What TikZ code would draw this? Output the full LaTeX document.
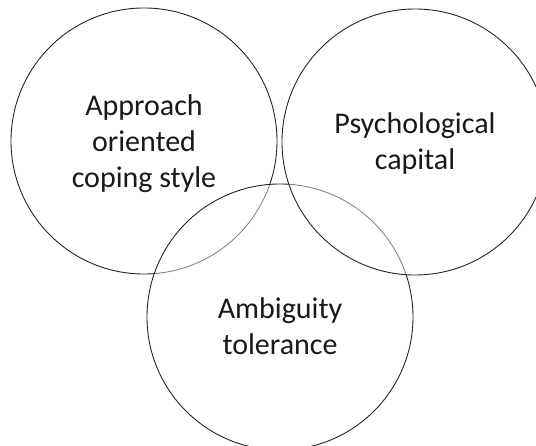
\documentclass[tikz,border=0pt]{standalone}
\usepackage{fontspec}
\setmainfont{Carlito}

\tikzset{
  venn/.style={circle, draw=black!85, line width=0.9pt, fill=white, fill opacity=0.45,
    minimum size=266pt, inner sep=0pt},
  venntext/.style={align=center, font=\fontsize{30}{36}\selectfont, text=black!90}
}

\begin{document}
\begin{tikzpicture}[x=1pt, y=-1pt]  % one unit is one pixel of the original, y runs down
    % Frame of the picture
    \useasboundingbox (0,0) rectangle (536,446);
    \clip (0,0) rectangle (536,446);

    % The three circles, drawn in this order so the later ones pale the lines beneath
    \node[venn] (coping) at (144,141) {};
    \node[venn] (tolerance) at (280,317) {};
    \node[venn] (capital) at (415,142) {};

    % Labels inside the circles
    \node[venntext] (copingtext) at (coping.center) [yshift=-3pt] {Approach\\oriented\\coping style};
    \node[venntext] (capitaltext) at (capital.center) [yshift=-2pt] {Psychological\\capital};
    \node[venntext] (tolerancetext) at (tolerance.center) [yshift=-9pt] {Ambiguity\\tolerance};

\end{tikzpicture}
\end{document}
